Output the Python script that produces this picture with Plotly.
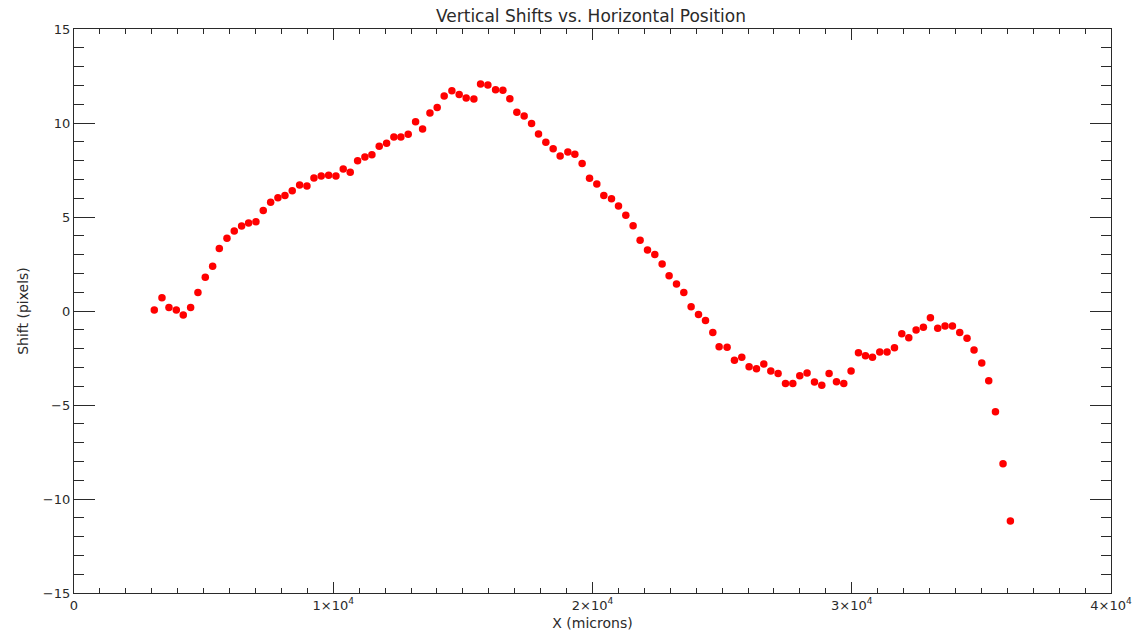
import plotly.graph_objects as go

x_microns = [3097, 3393, 3663, 3946, 4215, 4499, 4781, 5064, 5348, 5605,
             5900, 6182, 6465, 6735, 7018, 7300, 7585, 7866, 8136, 8418,
             8703, 8985, 9255, 9536, 9822, 10103, 10385, 10655, 10940, 11221,
             11491, 11773, 12058, 12339, 12609, 12891, 13176, 13446, 13730, 14009,
             14279, 14576, 14858, 15128, 15425, 15683, 15964, 16261, 16543, 16812,
             17082, 17364, 17649, 17918, 18200, 18482, 18752, 19049, 19319, 19600,
             19886, 20167, 20437, 20733, 21003, 21285, 21567, 21837, 22122, 22403,
             22686, 22955, 23240, 23522, 23804, 24089, 24359, 24641, 24884, 25192,
             25475, 25758, 26040, 26325, 26607, 26877, 27159, 27444, 27726, 27995,
             28277, 28562, 28844, 29126, 29411, 29692, 29974, 30259, 30529, 30799,
             31081, 31362, 31648, 31930, 32200, 32482, 32763, 33034, 33316, 33598,
             33883, 34165, 34447, 34717, 35014, 35284, 35543, 35835, 36119]
shift_pixels = [0.05, 0.71, 0.18, 0.05, -0.21, 0.18, 0.99, 1.79, 2.38, 3.33,
                3.87, 4.26, 4.52, 4.68, 4.75, 5.35, 5.78, 6.03, 6.15, 6.40,
                6.70, 6.65, 7.07, 7.18, 7.22, 7.18, 7.55, 7.38, 7.99, 8.19,
                8.31, 8.76, 8.92, 9.26, 9.26, 9.40, 10.07, 9.68, 10.53, 10.83,
                11.44, 11.72, 11.51, 11.33, 11.28, 12.07, 12.02, 11.77, 11.74, 11.29,
                10.57, 10.37, 9.98, 9.41, 8.97, 8.63, 8.24, 8.46, 8.34, 7.85,
                7.06, 6.76, 6.15, 5.97, 5.59, 5.09, 4.54, 3.76, 3.24, 3.01,
                2.50, 1.88, 1.44, 0.99, 0.23, -0.18, -0.50, -1.15, -1.90, -1.93,
                -2.62, -2.46, -2.96, -3.07, -2.82, -3.19, -3.33, -3.85, -3.85, -3.44,
                -3.30, -3.78, -3.95, -3.33, -3.76, -3.85, -3.19, -2.22, -2.38, -2.46,
                -2.18, -2.18, -1.95, -1.21, -1.42, -1.01, -0.87, -0.36, -0.92, -0.80,
                -0.80, -1.15, -1.45, -2.07, -2.77, -3.71, -5.36, -8.12, -11.17]

x_tickvals = [0, 10000, 20000, 30000, 40000]
x_ticktext = ["0", "1×10<sup>4</sup>", "2×10<sup>4</sup>", "3×10<sup>4</sup>", "4×10<sup>4</sup>"]
y_tickvals = [-15, -10, -5, 0, 5, 10, 15]
y_ticktext = ["−15", "−10", "−5", "0", "5", "10", "15"]

font_family = "DejaVu Sans, Liberation Sans, sans-serif"
ink = "#2a2a2a"

fig = go.Figure()
fig.add_trace(go.Scatter(
    x=x_microns, y=shift_pixels, mode="markers",
    marker=dict(color="#ff0000", size=7.5, line=dict(width=0)),
    showlegend=False, hoverinfo="x+y",
))

axis_common = dict(
    showline=True, linecolor=ink, linewidth=1.3, mirror="ticks",
    showgrid=False, zeroline=False, ticks="inside", tickcolor=ink,
    tickwidth=1.3, tickfont=dict(family=font_family, size=13, color=ink),
    automargin=False,
)

fig.update_layout(
    width=1142, height=635,
    margin=dict(l=74, r=31, t=29, b=42),
    paper_bgcolor="white", plot_bgcolor="white",
    title=dict(text="Vertical Shifts vs. Horizontal Position",
               x=0.5175, xanchor="center", y=1 - 16 / 635, yanchor="middle",
               yref="container",
               font=dict(family=font_family, size=17, color=ink)),
    xaxis=dict(range=[0, 40000], tickvals=x_tickvals, ticktext=x_ticktext,
               ticklen=11,
               minor=dict(dtick=1000, ticks="inside", ticklen=5, tickcolor=ink,
                          tickwidth=1.3, showgrid=False),
               title=dict(text="X (microns)", standoff=6,
                          font=dict(family=font_family, size=14, color=ink)),
               **axis_common),
    yaxis=dict(range=[-15, 15], tickvals=y_tickvals, ticktext=y_ticktext,
               ticklen=21,
               minor=dict(dtick=1, ticks="inside", ticklen=10, tickcolor=ink,
                          tickwidth=1.3, showgrid=False),
               title=dict(text="Shift (pixels)", standoff=10,
                          font=dict(family=font_family, size=14, color=ink)),
               **axis_common),
)

fig.write_html("out.html")
